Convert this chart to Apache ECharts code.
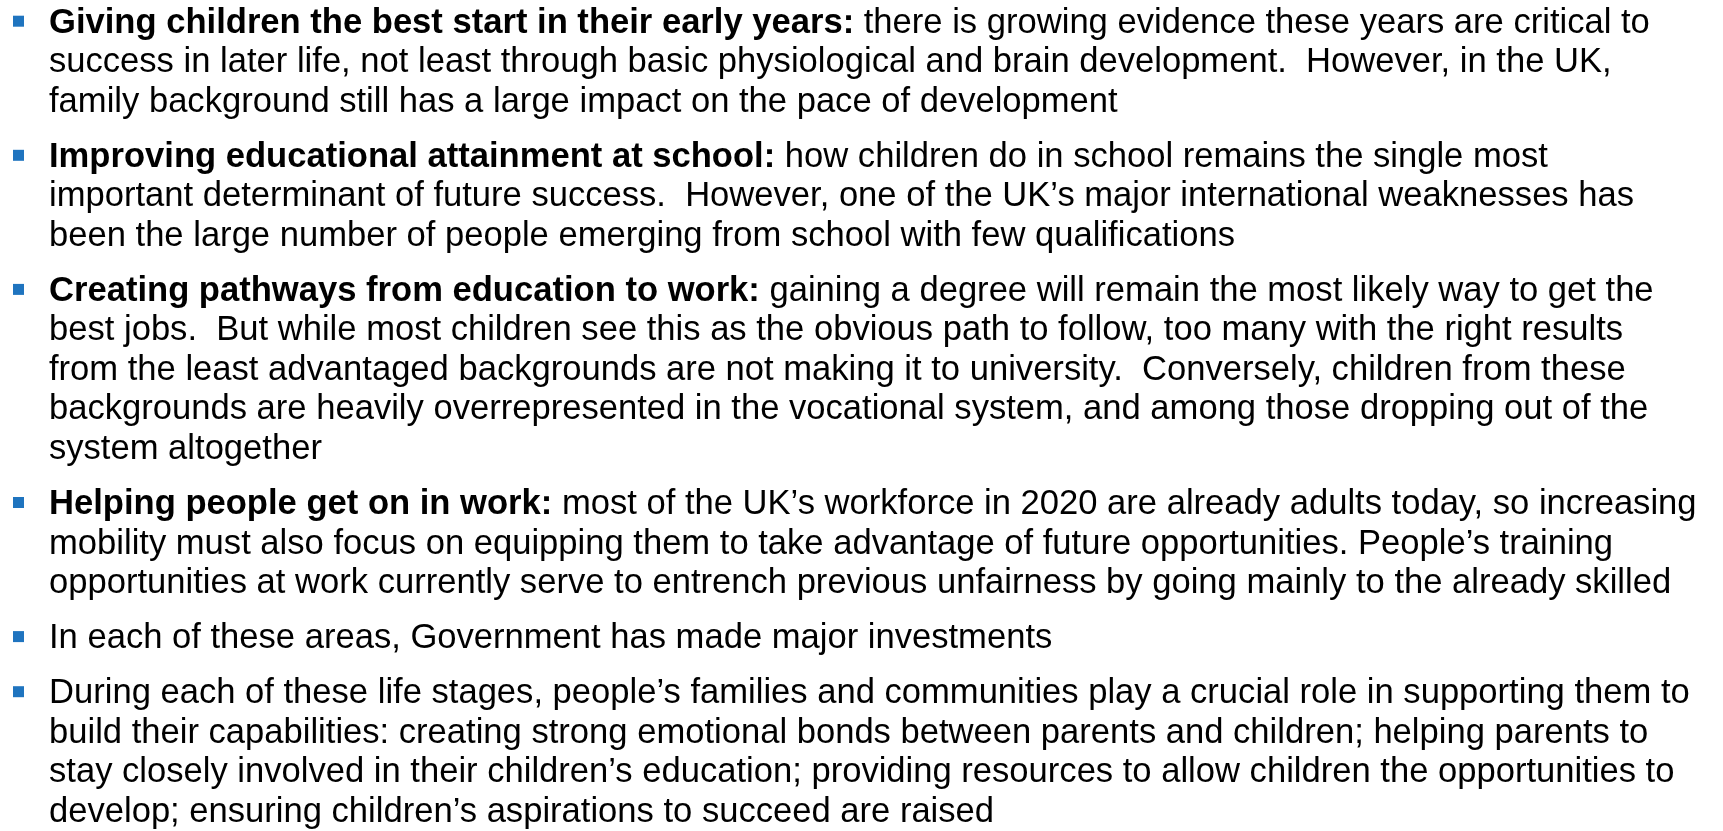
<!DOCTYPE html>
<html>
<head>
<meta charset="utf-8">
<script src="https://cdn.jsdelivr.net/npm/echarts@6/dist/echarts.min.js"></script>
<style>
html,body{margin:0;padding:0;background:#fff;}
#chart{width:1723px;height:831px;}
</style>
</head>
<body>
<div id="chart"></div>
<script>
// Slide content: bold lead-in per bullet and the text lines of each bullet
const headings = [
  'Giving children the best start in their early years:',
  'Improving educational attainment at school:',
  'Creating pathways from education to work:',
  'Helping people get on in work:',
  '',
  ''
];
const bulletLines = [
  ['there is growing evidence these years are critical to',
   'success in later life, not least through basic physiological and brain development.  However, in the UK,',
   'family background still has a large impact on the pace of development'],
  ['how children do in school remains the single most',
   'important determinant of future success.  However, one of the UK\u2019s major international weaknesses has',
   'been the large number of people emerging from school with few qualifications'],
  ['gaining a degree will remain the most likely way to get the',
   'best jobs.  But while most children see this as the obvious path to follow, too many with the right results',
   'from the least advantaged backgrounds are not making it to university.  Conversely, children from these',
   'backgrounds are heavily overrepresented in the vocational system, and among those dropping out of the',
   'system altogether'],
  ['most of the UK\u2019s workforce in 2020 are already adults today, so increasing',
   'mobility must also focus on equipping them to take advantage of future opportunities. People\u2019s training',
   'opportunities at work currently serve to entrench previous unfairness by going mainly to the already skilled'],
  ['In each of these areas, Government has made major investments'],
  ['During each of these life stages, people\u2019s families and communities play a crucial role in supporting them to',
   'build their capabilities: creating strong emotional bonds between parents and children; helping parents to',
   'stay closely involved in their children\u2019s education; providing resources to allow children the opportunities to',
   'develop; ensuring children\u2019s aspirations to succeed are raised']
];

const FONT = 'Liberation Sans, Arial, sans-serif';
const FS = 34.6;
const textX = 49;
const bulletX = 13;
const pitch = 39.5;
const gap = 15.6;
const firstY = 22.2;

const chart = echarts.init(document.getElementById('chart'), null, {renderer: 'canvas'});
const elements = [];
let y = firstY;
bulletLines.forEach((lines, bi) => {
  if (bi > 0) y += gap;
  elements.push({
    type: 'rect',
    shape: {x: bulletX, y: y - 6.5, width: 11, height: 11},
    style: {fill: '#1f74bf'}
  });
  lines.forEach((ln, li) => {
    let txt;
    if (li === 0 && headings[bi]) {
      txt = '{b|' + headings[bi] + '} {n|' + ln + '}';
    } else {
      txt = '{n|' + ln + '}';
    }
    elements.push({
      type: 'text',
      x: textX,
      y: y + 1,
      style: {
        text: txt,
        verticalAlign: 'middle',
        align: 'left',
        fill: '#000',
        font: FS + 'px ' + FONT,
        rich: {
          b: {fontFamily: FONT, fontSize: FS, fontWeight: 'bold', fill: '#000', lineHeight: 38},
          n: {fontFamily: FONT, fontSize: FS, fontWeight: 'normal', fill: '#000', lineHeight: 38}
        }
      }
    });
    y += pitch;
  });
});

chart.setOption({
  backgroundColor: '#ffffff',
  animation: false,
  graphic: {elements: elements}
});
</script>
</body>
</html>
